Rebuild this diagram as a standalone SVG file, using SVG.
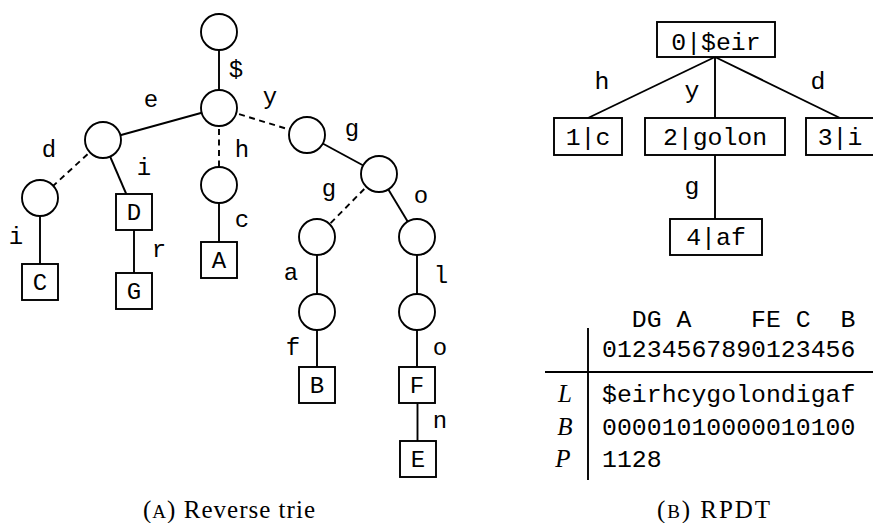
<svg xmlns="http://www.w3.org/2000/svg" width="873" height="523" viewBox="0 0 873 523">
<style>
  .bg { fill: #ffffff; }
  .e { stroke: #000; stroke-width: 1.9; fill: none; }
  .d { stroke: #000; stroke-width: 1.9; fill: none; stroke-dasharray: 6 4.5; }
  .n { fill: #fff; stroke: #000; stroke-width: 1.9; }
  .t { font-family: "Liberation Mono", "DejaVu Sans Mono", monospace; font-size: 24px; fill: #000; text-anchor: middle; }
  .r { font-family: "Liberation Mono", "DejaVu Sans Mono", monospace; font-size: 24.8px; fill: #000; text-anchor: middle; }
  .it { font-family: "Liberation Serif", "DejaVu Serif", serif; font-style: italic; font-size: 25px; fill: #000; text-anchor: middle; }
  .cap { font-family: "Liberation Serif", "DejaVu Serif", serif; font-size: 25px; fill: #000; }
</style>
<rect class="bg" x="0" y="0" width="873" height="523"/>

<!-- Connectors -->
<g id="connectors">
  <line class="e" x1="219" y1="32" x2="219" y2="108"/>
  <line class="e" x1="219" y1="108" x2="103" y2="140"/>
  <line class="d" x1="219" y1="108" x2="219" y2="185"/>
  <line class="d" x1="219" y1="108" x2="307" y2="135"/>
  <line class="d" x1="103" y1="140" x2="40" y2="198"/>
  <line class="e" x1="103" y1="140" x2="134" y2="212"/>
  <line class="e" x1="40" y1="198" x2="40" y2="282"/>
  <line class="e" x1="134" y1="212" x2="134" y2="291"/>
  <line class="e" x1="219" y1="185" x2="219" y2="260"/>
  <line class="e" x1="307" y1="135" x2="379" y2="174"/>
  <line class="d" x1="379" y1="174" x2="317" y2="237"/>
  <line class="e" x1="379" y1="174" x2="417" y2="237"/>
  <line class="e" x1="317" y1="237" x2="317" y2="312"/>
  <line class="e" x1="417" y1="237" x2="417" y2="312"/>
  <line class="e" x1="317" y1="312" x2="317" y2="385"/>
  <line class="e" x1="417" y1="312" x2="417" y2="385"/>
  <line class="e" x1="417.5" y1="385" x2="417.5" y2="459"/>
  <!-- RPDT -->
  <line class="e" x1="715" y1="57" x2="588" y2="118"/>
  <line class="e" x1="715" y1="57" x2="715" y2="118"/>
  <line class="e" x1="715" y1="57" x2="840" y2="118"/>
  <line class="e" x1="715" y1="155" x2="715" y2="219"/>
  <!-- table rules -->
  <line class="e" x1="588" y1="328" x2="588" y2="480"/>
  <line class="e" x1="545" y1="372" x2="873" y2="372"/>
</g>

<!-- Edge labels -->
<g id="edge-labels">
  <text class="t" x="236" y="77">$</text>
  <text class="t" x="151" y="107">e</text>
  <text class="t" x="270" y="104">y</text>
  <text class="t" x="242" y="157">h</text>
  <text class="t" x="49" y="157">d</text>
  <text class="t" x="144" y="175">i</text>
  <text class="t" x="16" y="244">i</text>
  <text class="t" x="159" y="257">r</text>
  <text class="t" x="242" y="227">c</text>
  <text class="t" x="352" y="136">g</text>
  <text class="t" x="329" y="196">g</text>
  <text class="t" x="421" y="203">o</text>
  <text class="t" x="291" y="280">a</text>
  <text class="t" x="441" y="283">l</text>
  <text class="t" x="293" y="355">f</text>
  <text class="t" x="440" y="355">o</text>
  <text class="t" x="440" y="428">n</text>
  <text class="r" x="602" y="89">h</text>
  <text class="r" x="692" y="98">y</text>
  <text class="r" x="818" y="89">d</text>
  <text class="r" x="692" y="194">g</text>
</g>

<!-- Reverse trie nodes -->
<g id="n-root"><circle class="n" cx="219" cy="32" r="18"/></g>
<g id="n-dollar"><circle class="n" cx="219" cy="108" r="18"/></g>
<g id="n-e"><circle class="n" cx="103" cy="140" r="18"/></g>
<g id="n-h"><circle class="n" cx="219" cy="185" r="18"/></g>
<g id="n-y"><circle class="n" cx="307" cy="135" r="18"/></g>
<g id="n-d"><circle class="n" cx="40" cy="198" r="18"/></g>
<g id="n-yg"><circle class="n" cx="379" cy="174" r="18"/></g>
<g id="n-ygg"><circle class="n" cx="317" cy="237" r="18"/></g>
<g id="n-ygo"><circle class="n" cx="417" cy="237" r="18"/></g>
<g id="n-ygga"><circle class="n" cx="317" cy="312" r="18"/></g>
<g id="n-ygol"><circle class="n" cx="417" cy="312" r="18"/></g>
<g id="leaf-C"><rect class="n" x="22" y="264" width="36" height="36"/><text class="t" x="40" y="290">C</text></g>
<g id="leaf-D"><rect class="n" x="116" y="194" width="36" height="36"/><text class="t" x="134" y="220">D</text></g>
<g id="leaf-G"><rect class="n" x="116" y="273" width="36" height="36"/><text class="t" x="134" y="299">G</text></g>
<g id="leaf-A"><rect class="n" x="201" y="242" width="36" height="36"/><text class="t" x="219" y="268">A</text></g>
<g id="leaf-B"><rect class="n" x="299" y="367" width="36" height="36"/><text class="t" x="317" y="393">B</text></g>
<g id="leaf-F"><rect class="n" x="399" y="367" width="36" height="36"/><text class="t" x="417" y="393">F</text></g>
<g id="leaf-E"><rect class="n" x="400" y="441" width="36" height="36"/><text class="t" x="418" y="467">E</text></g>

<!-- RPDT nodes -->
<g id="rp-0"><rect class="n" x="657" y="22" width="118" height="35"/><text class="r" x="716" y="50">0|$eir</text></g>
<g id="rp-1"><rect class="n" x="554" y="118" width="68" height="37"/><text class="r" x="588" y="145">1|c</text></g>
<g id="rp-2"><rect class="n" x="645" y="118" width="140" height="37"/><text class="r" x="715" y="145">2|golon</text></g>
<g id="rp-3"><rect class="n" x="806" y="118" width="68" height="37"/><text class="r" x="840" y="145">3|i</text></g>
<g id="rp-4"><rect class="n" x="670" y="219" width="92" height="36"/><text class="r" x="716" y="245">4|af</text></g>

<!-- Table -->
<g id="table">
  <text class="r" x="639.3 654.2 684.0 758.5 773.4 803.2 847.9" y="327">DGAFECB</text>
  <text class="r" x="609.5 624.4 639.3 654.2 669.1 684.0 698.9 713.8 728.7 743.6 758.5 773.4 788.3 803.2 818.1 833.0 847.9" y="357">01234567890123456</text>
  <text class="it" x="565" y="402">L</text>
  <text class="it" x="565" y="435">B</text>
  <text class="it" x="563" y="467">P</text>
  <text class="r" x="609.5 624.4 639.3 654.2 669.1 684.0 698.9 713.8 728.7 743.6 758.5 773.4 788.3 803.2 818.1 833.0 847.9" y="402">$eirhcygolondigaf</text>
  <text class="r" x="609.5 624.4 639.3 654.2 669.1 684.0 698.9 713.8 728.7 743.6 758.5 773.4 788.3 803.2 818.1 833.0 847.9" y="435">00001010000010100</text>
  <text class="r" x="609.5 624.4 639.3 654.2" y="467">1128</text>
</g>

<!-- Captions -->
<text class="cap" x="143" y="518" textLength="172" lengthAdjust="spacing">(<tspan font-size="19">A</tspan>) Reverse trie</text>
<text class="cap" x="657" y="518" textLength="113" lengthAdjust="spacing">(<tspan font-size="19">B</tspan>) RPDT</text>
</svg>
